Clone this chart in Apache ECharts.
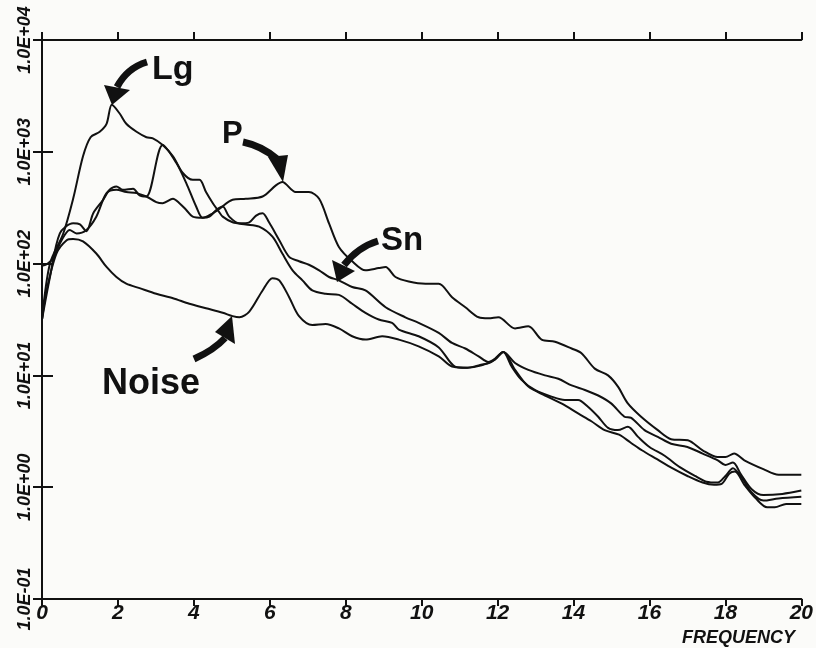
<!DOCTYPE html>
<html>
<head>
<meta charset="utf-8">
<script src="https://cdn.jsdelivr.net/npm/echarts@6/dist/echarts.min.js"></script>
<style>
html,body{margin:0;padding:0;background:#fbfbf9;}
#c{width:816px;height:648px;}
</style>
</head>
<body>
<div id="c"></div>
<script>
// ---- data (frequency, spectral amplitude) ----
var lgFreq = [0,0.21,0.56,0.82,1.08,1.28,1.52,1.70,1.84,2.05,2.22,2.49,2.75,2.92,3.18,3.45,3.71,3.97,4.15,4.32,4.50,4.67,4.76,5.02,5.37,5.72,6.07,6.33,6.60,6.86,7.12,7.47,7.82,8.17,8.52,8.87,9.22,9.40,9.92,10.45,10.88,11.2,11.58,11.93,12.15,12.37,12.63,12.98,13.42,13.77,14.12,14.38,14.65,14.91,15.17,15.43,15.7,16.0,16.4,16.8,17.2,17.5,17.8,18.0,18.2,18.4,18.7,19.0,19.4,20];
var lgAmp  = [31.6,100,186,380,912,1350,1510,1780,2630,2190,1780,1510,1350,1320,1150,912,646,562,562,437,347,288,263,234,224,214,174,123,87.1,70.8,57.5,53.7,52.5,43.7,36.3,31.6,29.5,25.7,22.4,17.8,12.0,11.7,12.3,13.8,16.2,12.0,9.12,7.41,6.46,6.03,6.03,5.25,4.27,3.39,3.24,3.47,2.82,2.29,1.91,1.51,1.26,1.12,1.10,1.26,1.48,1.26,0.891,0.759,0.794,0.822];

var pFreq = [0,0.15,0.3,0.5,0.73,0.91,1.17,1.43,1.70,1.96,2.22,2.49,2.75,3.01,3.18,3.45,3.62,3.80,3.97,4.23,4.50,4.67,5.02,5.37,5.81,6.16,6.33,6.68,7.03,7.30,7.56,7.82,8.17,8.52,8.87,9.05,9.31,9.66,10.1,10.45,10.8,11.15,11.5,11.76,12.02,12.46,12.81,13.16,13.51,13.95,14.21,14.56,14.91,15.17,15.43,15.78,16.22,16.57,17.01,17.4,17.8,18.0,18.23,18.5,19.0,19.4,20];
var pAmp  = [95.5,100,112,158,200,186,200,263,427,457,437,427,398,355,347,380,347,302,263,257,282,309,372,380,398,501,537,437,437,380,229,141,105,87.1,91.2,93.3,75.9,69.2,66.1,66.1,50.1,40.7,33.1,32.4,33.1,26.3,27.5,20.9,20.0,17.4,15.8,11.5,10.0,7.94,5.62,4.27,3.24,2.69,2.63,2.14,1.86,1.86,2.0,1.74,1.45,1.29,1.29];

var snFreq = [0,0.21,0.47,0.82,1.0,1.17,1.35,1.61,1.78,1.96,2.13,2.40,2.57,2.75,3.18,3.54,3.80,4.06,4.23,4.41,4.59,4.76,4.93,5.20,5.46,5.64,5.81,5.98,6.25,6.51,6.77,7.03,7.30,7.56,7.82,8.17,8.52,9.05,9.57,9.92,10.45,10.8,11.15,11.5,11.76,11.93,12.15,12.46,12.81,13.25,13.60,13.95,14.30,14.65,14.99,15.34,15.52,15.87,16.22,16.57,17.0,17.4,17.8,18.0,18.2,18.4,18.7,19.0,19.5,20];
var snAmp  = [31.6,75.9,186,229,224,195,282,372,457,490,457,468,407,398,1150,794,525,324,257,263,302,324,263,229,234,269,282,234,162,115,105,97.7,87.1,75.9,70.8,61.7,57.5,40.7,33.1,29.5,24.0,19.5,17.4,14.8,13.2,14.1,16.2,12.9,11.2,10.0,9.33,8.13,7.41,6.61,5.62,4.27,4.17,3.24,2.82,2.45,2.29,2.0,1.74,1.58,1.66,1.32,0.955,0.851,0.871,0.933];

var noiseFreq = [0,0.12,0.38,0.65,0.82,1.08,1.43,1.70,1.96,2.22,2.57,3.01,3.45,3.88,4.32,4.76,5.02,5.20,5.46,5.81,6.07,6.25,6.51,6.77,7.12,7.47,7.82,8.17,8.52,8.96,9.40,9.92,10.45,10.8,11.2,11.5,11.84,12.15,12.46,12.81,13.25,13.68,14.12,14.47,14.82,15.2,15.5,15.8,16.2,16.6,17.0,17.4,17.7,17.9,18.1,18.25,18.5,18.8,19.1,19.3,19.6,20];
var noiseAmp  = [31.6,57.5,123,162,166,158,123,93.3,75.9,66.1,60.3,53.7,49.0,43.7,39.8,36.3,33.9,33.1,37.2,57.5,74.1,70.8,50.1,33.9,28.2,28.8,26.3,22.4,20.9,22.4,20.9,18.2,14.8,12.0,11.7,12.3,13.2,16.2,11.2,7.94,6.61,5.62,4.57,3.89,3.24,2.95,2.51,2.14,1.78,1.48,1.26,1.10,1.05,1.07,1.32,1.38,1.05,0.794,0.661,0.661,0.708,0.708];

var xTicks = [0,2,4,6,8,10,12,14,16,18,20];
var yTickLabels = ['1.0E-01','1.0E+00','1.0E+01','1.0E+02','1.0E+03','1.0E+04'];

function zip(a,b){ var r=[]; for(var i=0;i<a.length;i++) r.push([a[i],b[i]]); return r; }

var INK = '#111111';
var FONT = '"Liberation Sans", Arial, sans-serif';

function curve(name, f, a){
  return {
    name:name, type:'line', data:zip(f,a), showSymbol:false, smooth:0.3,
    lineStyle:{color:INK, width:2}, xAxisIndex:0, yAxisIndex:0, z:3
  };
}

var chart = echarts.init(document.getElementById('c'), null, {renderer:'canvas'});

var option = {
  backgroundColor:'#fbfbf9',
  animation:false,
  grid:{left:42, right:12, top:40, bottom:49},
  xAxis:[{
    type:'value', min:0, max:20, interval:2, position:'bottom',
    axisLine:{lineStyle:{color:INK, width:2}},
    axisTick:{length:7, lineStyle:{color:INK, width:2}},
    splitLine:{show:false},
    axisLabel:{color:INK, fontSize:21, fontWeight:'bold', fontStyle:'italic', fontFamily:FONT, margin:4,
      formatter:function(v){ return xTicks.indexOf(v)>=0 ? String(v) : ''; }}
  },{
    type:'value', min:0, max:20, interval:2, position:'top',
    axisLine:{lineStyle:{color:INK, width:2}},
    axisTick:{length:8, lineStyle:{color:INK, width:2}},
    splitLine:{show:false}, axisLabel:{show:false}
  }],
  yAxis:[{
    type:'log', logBase:10, min:0.1, max:10000, position:'left',
    axisLine:{lineStyle:{color:INK, width:2}},
    axisTick:{length:9, lineStyle:{color:INK, width:2}},
    splitLine:{show:false},
    axisLabel:{color:INK, fontSize:18, fontWeight:'bold', fontStyle:'italic', fontFamily:FONT, rotate:90, margin:8,
      formatter:function(v){
        var e = Math.round(Math.log(v)/Math.LN10);
        return yTickLabels[e+1] || '';
      }}
  },{
    type:'log', logBase:10, min:0.1, max:10000, position:'right',
    axisLine:{lineStyle:{color:INK, width:2}},
    axisTick:{length:11, lineStyle:{color:INK, width:2}},
    splitLine:{show:false}, axisLabel:{show:false}
  }],
  series:[
    curve('Lg', lgFreq, lgAmp),
    curve('P', pFreq, pAmp),
    curve('Sn', snFreq, snAmp),
    curve('Noise', noiseFreq, noiseAmp)
  ],
  graphic:[
    {type:'text', left:682, top:629, style:{text:'FREQUENCY', font:'italic bold 18px '+FONT, fill:INK}},
    // labels
    {type:'text', left:152, top:53, style:{text:'Lg', font:'bold 34px '+FONT, fill:INK}},
    {type:'text', left:222, top:119, style:{text:'P', font:'bold 31px '+FONT, fill:INK}},
    {type:'text', left:381, top:224, style:{text:'Sn', font:'bold 33px '+FONT, fill:INK}},
    {type:'text', left:102, top:366, style:{text:'Noise', font:'bold 36px '+FONT, fill:INK}},
    // arrows
    {type:'bezierCurve', shape:{x1:147,y1:62,cpx1:127,cpy1:68,x2:117,y2:87}, style:{stroke:INK, lineWidth:7, fill:null}},
    {type:'polygon', shape:{points:[[104,85],[130,90],[112,105]]}, style:{fill:INK}},
    {type:'bezierCurve', shape:{x1:243,y1:142,cpx1:262,cpy1:146,x2:277,y2:159}, style:{stroke:INK, lineWidth:7, fill:null}},
    {type:'polygon', shape:{points:[[268,157],[288,155],[283,182]]}, style:{fill:INK}},
    {type:'bezierCurve', shape:{x1:378,y1:241,cpx1:358,cpy1:247,x2:344,y2:265}, style:{stroke:INK, lineWidth:7, fill:null}},
    {type:'polygon', shape:{points:[[332,260],[355,271],[337,282]]}, style:{fill:INK}},
    {type:'bezierCurve', shape:{x1:194,y1:359,cpx1:214,cpy1:350,x2:225,y2:338}, style:{stroke:INK, lineWidth:7, fill:null}},
    {type:'polygon', shape:{points:[[215,332],[235,344],[232,316]]}, style:{fill:INK}}
  ]
};
chart.setOption(option);
</script>
</body>
</html>
